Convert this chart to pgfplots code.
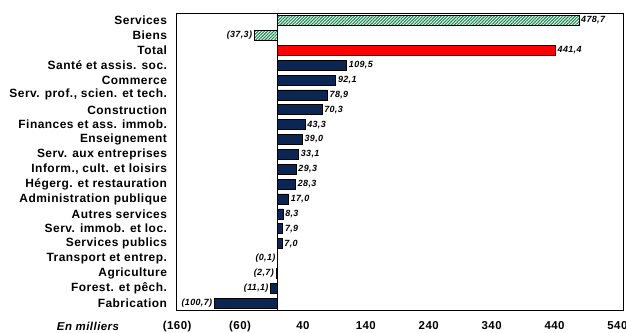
\documentclass[border=0pt]{standalone}
\usepackage{fontspec}
\setmainfont{Liberation Sans}[LetterSpace=4]
\usepackage{pgfplots}
\pgfplotsset{compat=1.18}
\usepackage{pgfplotstable}
\usetikzlibrary{patterns.meta}

\definecolor{navy}{HTML}{0C2654}
\definecolor{hatchgreen}{HTML}{178A52}

\pgfplotstableread{
y x lab
0 478.7 478,7
}\hatchpos

\pgfplotstableread{
y x lab
1 -37.3 (37,3)
}\hatchneg

\pgfplotstableread{
y x lab
2 441.4 441,4
}\totaldata

\pgfplotstableread{
y x lab
3 109.5 109,5
4 92.1 92,1
5 78.9 78,9
6 70.3 70,3
7 43.3 43,3
8 39.0 39,0
9 33.1 33,1
10 29.3 29,3
11 28.3 28,3
12 17.0 17,0
13 8.3 8,3
14 7.9 7,9
15 7.0 7,0
}\sectorpos

\pgfplotstableread{
y x lab
16 -0.1 (0,1)
17 -2.7 (2,7)
18 -11.1 (11,1)
19 -100.7 (100,7)
}\sectorneg

\begin{document}
\begin{tikzpicture}
\useasboundingbox (-176.5bp,-22.5bp) rectangle (449.5bp,310.5bp);
\begin{axis}[
  at={(0,0)}, anchor=south west,
  scale only axis, width=446.6bp, height=297.4bp,
  xbar, bar shift=0pt, bar width=10bp,
  xmin=-161, xmax=549, ymin=-0.5, ymax=19.5, y dir=reverse,
  xtick={-160,-60,40,140,240,340,440,540},
  xticklabels={(160),(60),40,140,240,340,440,540},
  ytick={0,...,19},
  yticklabels={Services,Biens,Total,Santé et assis. soc.,Commerce,{Serv. prof., scien. et tech.},Construction,Finances et ass. immob.,Enseignement,Serv. aux entreprises,{Inform., cult. et loisirs},Hégerg. et restauration,Administration publique,Autres services,Serv. immob. et loc.,Services publics,Transport et entrep.,Agriculture,Forest. et pêch.,Fabrication},
  major tick length=0pt,
  axis line style={black, line width=0.8bp},
  tick label style={font=\fontsize{12}{13}\selectfont\bfseries},
  xticklabel style={yshift=-7bp, font=\fontsize{11.5}{12}\selectfont\bfseries},
  yticklabel style={xshift=-6bp},
  clip=false,
  nodes near coords, point meta=explicit symbolic,
  every node near coord/.append style={font=\fontsize{9}{10}\selectfont\bfseries\itshape, inner sep=2bp, text=black},
  pos/.style={every node near coord/.append style={anchor=west}},
  neg/.style={every node near coord/.append style={anchor=east}},
]
\addplot[pos, draw=black, line width=0.6bp, pattern={Lines[angle=45,distance=2.2bp,line width=1.1bp]}, pattern color=hatchgreen]
  table[x=x, y=y, meta=lab] {\hatchpos};
\addplot[neg, draw=black, line width=0.6bp, pattern={Lines[angle=45,distance=2.2bp,line width=1.1bp]}, pattern color=hatchgreen]
  table[x=x, y=y, meta=lab] {\hatchneg};
\addplot[pos, draw=black, line width=0.6bp, fill=red]
  table[x=x, y=y, meta=lab] {\totaldata};
\addplot[pos, draw=black, line width=0.6bp, fill=navy]
  table[x=x, y=y, meta=lab] {\sectorpos};
\addplot[neg, draw=black, line width=0.6bp, fill=navy]
  table[x=x, y=y, meta=lab] {\sectorneg};
\draw[black, line width=0.8bp] (axis cs:0,-0.5) -- (axis cs:0,19.5);
\node[font=\fontsize{11.5}{12}\selectfont\bfseries\itshape] at (axis cs:-161,19.5) [xshift=-88.5bp, yshift=-16bp] {En milliers};
\end{axis}
\end{tikzpicture}
\end{document}
